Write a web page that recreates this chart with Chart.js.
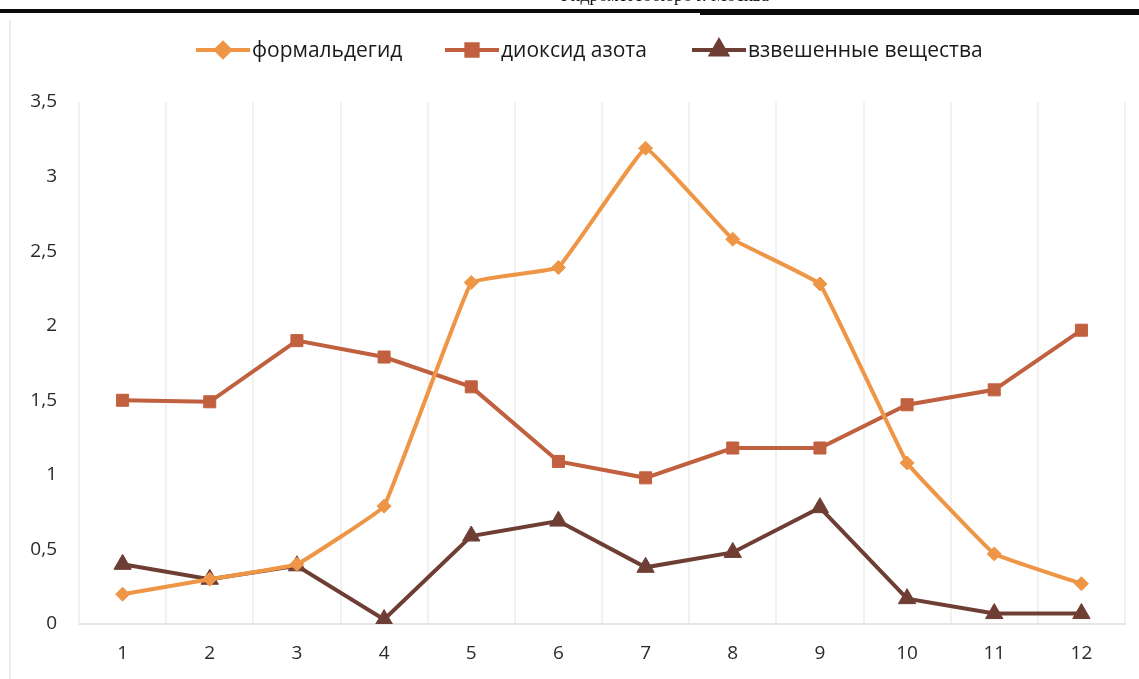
<!DOCTYPE html>
<html lang="ru">
<head>
<meta charset="utf-8">
<script src="https://cdn.jsdelivr.net/npm/chart.js@4.4.1/dist/chart.umd.min.js"></script>
<style>
  html, body { margin: 0; padding: 0; background: #fff; }
  #wrap { position: relative; width: 1139px; height: 679px; }
</style>
</head>
<body>
<div id="wrap"><canvas id="pollutionChart" width="1139" height="679"></canvas></div>
<script>
const months = ["1", "2", "3", "4", "5", "6", "7", "8", "9", "10", "11", "12"];

const formaldehyde = [0.2, 0.3, 0.4, 0.79, 2.29, 2.39, 3.19, 2.58, 2.28, 1.08, 0.47, 0.27];
const nitrogenDioxide = [1.5, 1.49, 1.9, 1.79, 1.59, 1.09, 0.98, 1.18, 1.18, 1.47, 1.57, 1.97];
const suspendedMatter = [0.4, 0.3, 0.39, 0.03, 0.59, 0.69, 0.38, 0.48, 0.78, 0.17, 0.07, 0.07];

const seriesNames = ["формальдегид", "диоксид азота", "взвешенные вещества"];
const seriesColors = ["#ee9646", "#c0603f", "#6e3e34"];
const yTicks = [0, 0.5, 1, 1.5, 2, 2.5, 3, 3.5];

const FONT = "'Open Sans', 'Noto Sans', Arial, sans-serif";

// Legend drawn by hand: Excel-style line segment with the marker in the middle
const lineLegendPlugin = {
  id: "lineLegend",
  afterDraw(chart) {
    const { ctx } = chart;
    const items = [
      { x: 196, style: "rectRot", r: 7 },
      { x: 445, style: "rect", r: 8 },
      { x: 692, style: "triangle", r: 9 }
    ];
    const y = 50;
    ctx.save();
    items.forEach((it, i) => {
      const color = seriesColors[i];
      ctx.strokeStyle = color;
      ctx.lineWidth = 4;
      ctx.beginPath();
      ctx.moveTo(it.x, y);
      ctx.lineTo(it.x + 54, y);
      ctx.stroke();
      Chart.helpers.drawPoint(ctx, {
        pointStyle: it.style,
        radius: it.r,
        borderWidth: 1
      }, it.x + 27, y);
      ctx.fillStyle = color;
      ctx.fill();
      ctx.fillStyle = "#1a1a1a";
      ctx.font = "21px " + FONT;
      ctx.textBaseline = "middle";
      ctx.textAlign = "left";
      ctx.fillText(seriesNames[i], it.x + 56, y + 1);
    });
    ctx.restore();
  }
};

// Page frame: heavy rule at the top, caption above it, thin left edge
const pageFramePlugin = {
  id: "pageFrame",
  beforeDraw(chart) {
    const { ctx } = chart;
    ctx.save();
    ctx.fillStyle = "#fff";
    ctx.fillRect(0, 0, chart.width, chart.height);
    ctx.font = "18px 'Liberation Serif', serif";
    ctx.fillStyle = "#111";
    ctx.textAlign = "center";
    ctx.textBaseline = "alphabetic";
    ctx.fillText("«Гидрометеобюро г. Москва»", 665, 1);
    ctx.fillStyle = "#0a0a0a";
    ctx.fillRect(0, 9, chart.width, 4);
    ctx.fillRect(700, 10, chart.width - 700, 5);
    ctx.fillStyle = "#ececec";
    ctx.fillRect(9, 20, 2, chart.height - 20);
    ctx.restore();
  }
};

const makeSet = (label, data, color, pointStyle, radius, tension) => ({
  label,
  data,
  borderColor: color,
  backgroundColor: color,
  pointBackgroundColor: color,
  pointBorderColor: color,
  pointStyle,
  pointRadius: radius,
  pointBorderWidth: 1,
  borderWidth: 4,
  tension,
  cubicInterpolationMode: "default"
});

new Chart(document.getElementById("pollutionChart"), {
  type: "line",
  data: {
    labels: months,
    datasets: [
      makeSet(seriesNames[0], formaldehyde, seriesColors[0], "rectRot", 7, 0.06),
      makeSet(seriesNames[1], nitrogenDioxide, seriesColors[1], "rect", 8.5, 0),
      makeSet(seriesNames[2], suspendedMatter, seriesColors[2], "triangle", 10, 0)
    ]
  },
  plugins: [pageFramePlugin, lineLegendPlugin],
  options: {
    responsive: false,
    animation: false,
    layout: { padding: { top: 102, right: 14, left: 0, bottom: 0 } },
    plugins: {
      legend: { display: false },
      tooltip: { enabled: false }
    },
    scales: {
      x: {
        offset: true,
        grid: { offset: true, color: "#f1f1ef", lineWidth: 2, drawTicks: false },
        border: { color: "#e6e6e4", width: 2 },
        ticks: { color: "#2a2a2a", font: { size: 19, family: FONT }, padding: 18, maxRotation: 0 },
        afterFit(scale) { scale.height = 55; }
      },
      y: {
        min: 0,
        max: 3.5,
        afterBuildTicks(scale) { scale.ticks = yTicks.map(v => ({ value: v })); },
        grid: { display: false, drawTicks: false },
        border: { display: false },
        ticks: {
          color: "#2a2a2a",
          font: { size: 19, family: FONT },
          padding: 22,
          callback: v => String(v).replace(".", ",")
        },
        afterFit(scale) { scale.width = 79; }
      }
    }
  }
});
</script>
</body>
</html>
